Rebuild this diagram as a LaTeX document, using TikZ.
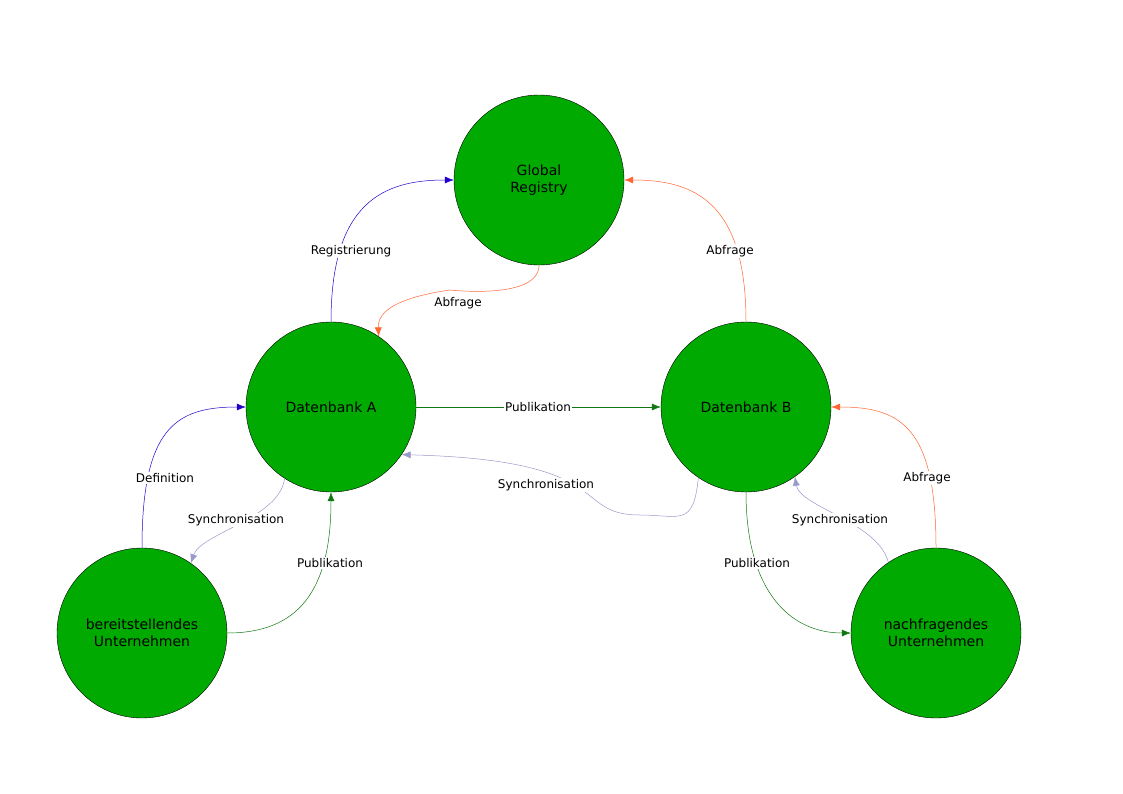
\documentclass[tikz,border=0pt]{standalone}
\usepackage{fontspec}
\setmainfont{DejaVu Sans}
\usetikzlibrary{arrows.meta}
\definecolor{nodegreen}{HTML}{00AA00}
\definecolor{eblue}{HTML}{2200CC}
\definecolor{eorange}{HTML}{FF6633}
\definecolor{elav}{HTML}{9999CC}
\definecolor{egreen}{HTML}{117711}
\begin{document}
\begin{tikzpicture}[x=1pt,y=-1pt,
  st/.style={circle,draw=black,fill=nodegreen,minimum size=170pt,inner sep=0pt,align=center,font=\fontsize{14}{17}\selectfont},
  e/.style={-{Latex[length=9pt,width=7pt]},line width=0.5pt},
  lab/.style={font=\fontsize{12}{14}\selectfont,fill=white,inner sep=1pt}]
\useasboundingbox[fill=white] (0,0) rectangle (1123,794);
\node[st] (G) at (539,180) {Global\\Registry};
\node[st] (A) at (331,407) {Datenbank A};
\node[st] (B) at (746,407) {Datenbank B};
\node[st] (P) at (142,633) {bereitstellendes\\Unternehmen};
\node[st] (N) at (936,633) {nachfragendes\\Unternehmen};
% Registrierung
\draw[e,eblue] (A.north) .. controls +(0,-120) and +(-70,0) .. (G.west);
\node[lab] (l1) at (351,251) {Registrierung};
% Abfrage G->A
\draw[e,eorange] (G.south) .. controls +(0,35) and +(0,0) .. (450,290) .. controls (380,300) and (378,320) .. (A.56);
\node[lab] (l2) at (458,303) {Abfrage};
% Abfrage B->G
\draw[e,eorange] (B.north) .. controls +(0,-120) and +(70,0) .. (G.east);
\node[lab] (l3) at (730,251) {Abfrage};
% Publikation A->B
\draw[e,egreen] (A.east) -- (B.west);
\node[lab] (l4) at (538,407) {Publikation};
% Synchronisation B->A
\draw[e,elav] (B.-124) .. controls +(-5,50) and +(40,0) .. (640,515) .. controls (570,515) and (620,460) .. (A.-34);
\node[lab] (l5) at (546,485) {Synchronisation};
% Definition
\draw[e,eblue] (P.north) .. controls +(0,-120) and +(-70,0) .. (A.west);
\node[lab] (l6) at (165,478) {Definition};
% Synchronisation A->P
\draw[e,elav] (A.-123) .. controls +(-5,40) and +(10,-30) .. (P.55);
\node[lab] (l7) at (236,520) {Synchronisation};
% Publikation P->A
\draw[e,egreen] (P.east) .. controls +(70,0) and +(0,100) .. (A.south);
\node[lab] (l8) at (330,563) {Publikation};
% Publikation B->N
\draw[e,egreen] (B.south) .. controls +(0,100) and +(-60,0) .. (N.west);
\node[lab] (l9) at (757,563) {Publikation};
% Synchronisation N->B
\draw[e,elav] (N.124) .. controls +(-10,-40) and +(5,30) .. (B.-55);
\node[lab] (l10) at (840,520) {Synchronisation};
% Abfrage N->B
\draw[e,eorange] (N.north) .. controls +(0,-120) and +(70,0) .. (B.east);
\node[lab] (l11) at (927,478) {Abfrage};
\end{tikzpicture}
\end{document}
